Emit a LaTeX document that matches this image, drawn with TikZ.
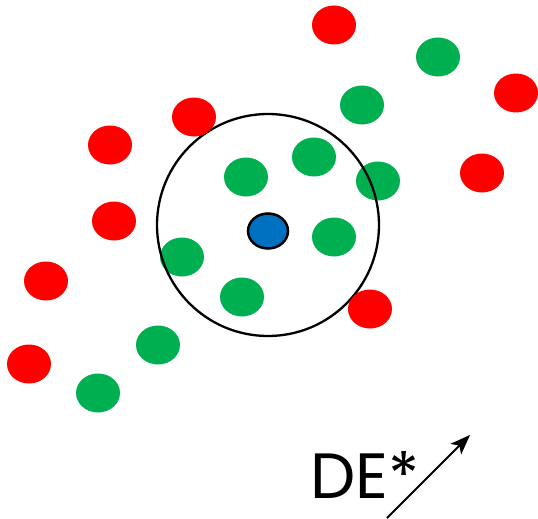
\documentclass[tikz,border=0pt]{standalone}
\usepackage{fontspec}
\setmainfont{Poppins}
\usepackage{tikz}
\usetikzlibrary{shapes.geometric,arrows.meta}

\definecolor{ptred}{HTML}{FF0000}
\definecolor{ptgreen}{HTML}{00B050}
\definecolor{ptblue}{HTML}{0070C0}

\begin{document}
\begin{tikzpicture}[x=1pt,y=-1pt,dot/.style={ellipse,inner sep=0pt,minimum width=44pt,minimum height=39pt},reddot/.style={dot,fill=ptred},greendot/.style={dot,fill=ptgreen},query/.style={ellipse,inner sep=0pt,minimum width=40pt,minimum height=35pt,fill=ptblue,draw=black,line width=2.5pt},nbhd/.style={circle,draw=black,line width=2.3pt,minimum size=222pt,inner sep=0pt}]
\useasboundingbox (0,0) rectangle (538,519);
% green points
\foreach \x/\y [count=\i] in %
{438/57,362/105,314/157,246/177,378/181,334/237,182/257,242/297,158/345,98/393} {
   \node[greendot] (g\i) at (\x,\y) {};
}
% neighbourhood
\node[nbhd] (ring) at (268,225) {};
% red points
\foreach \x/\y [count=\i] in %
{334/25,516/93,194/117,110/145,482/173,114/221,46/281,370/309,29/364} {
   \node[reddot] (r\i) at (\x,\y) {};
}
\node[query] (q) at (268,231) {};
% label and direction
\node[anchor=base west,inner sep=0pt,font=\fontsize{64}{64}\selectfont] (lbl) at (310,498) {DE*};
\coordinate (tail) at (387,518);
\coordinate (head) at (470,435);
\draw[line width=2pt,-{Stealth[length=20pt,width=15pt,inset=5pt]}] (tail) -- (head);
\end{tikzpicture}
\end{document}
